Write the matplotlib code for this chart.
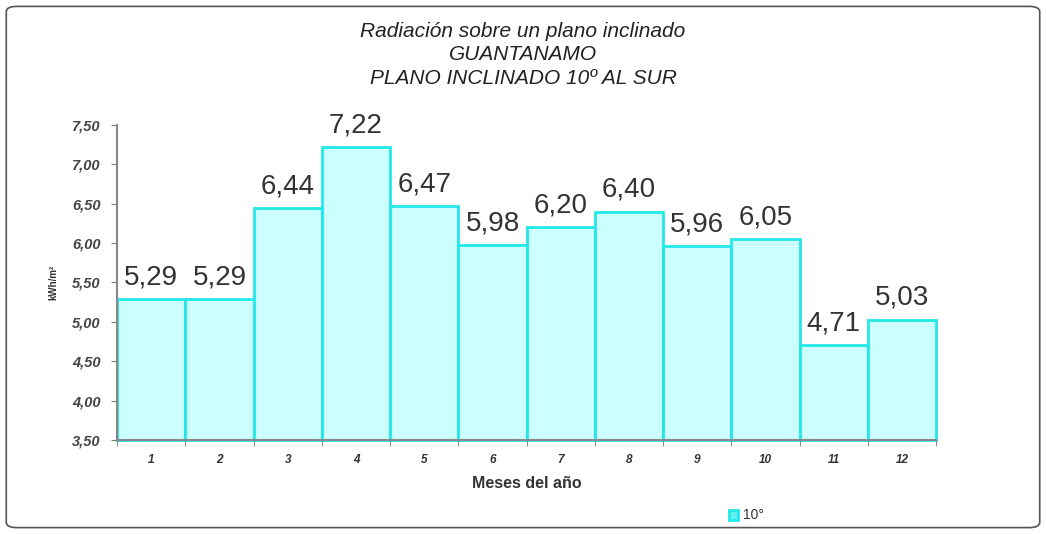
import matplotlib.pyplot as plt
from matplotlib.patches import FancyBboxPatch
import numpy as np

plt.rcParams['font.family'] = ['Liberation Sans', 'DejaVu Sans']

# Data
months = ['1', '2', '3', '4', '5', '6', '7', '8', '9', '10', '11', '12']
radiation = [5.29, 5.29, 6.44, 7.22, 6.47, 5.98, 6.20, 6.40, 5.96, 6.05, 4.71, 5.03]
y_ticks = [3.50, 4.00, 4.50, 5.00, 5.50, 6.00, 6.50, 7.00, 7.50]

fig = plt.figure(figsize=(10.46, 5.34), dpi=100)
ax = fig.add_axes([0.112, 0.176, 0.783, 0.590])

x = np.arange(len(months))
base = 3.5
bars = ax.bar(x, np.array(radiation) - base, bottom=base, width=1.0,
              color='#CCFFFF', edgecolor='#22E8E8', linewidth=2)
for b in bars:
    b.set_clip_on(False)

for xi, v in zip(x, radiation):
    ax.text(xi, v + 0.11, f'{v:.2f}'.replace('.', ','), ha='center', va='bottom',
            fontsize=20, color='#333333')

ax.set_xlim(-0.5, len(months) - 0.5)
ax.set_ylim(3.5, 7.5)
ax.set_yticks(y_ticks)
ax.set_yticklabels([f'{t:.2f}'.replace('.', ',') for t in y_ticks],
                   fontsize=10.5, fontstyle='italic', fontweight='bold', color='#444444')
ax.set_xticks(x)
ax.set_xticklabels(months, fontsize=8.5, fontstyle='italic', fontweight='bold', color='#333333')
ax.set_xticks(np.arange(len(months) + 1) - 0.5, minor=True)
ax.tick_params(axis='x', which='major', length=0, pad=10)
ax.tick_params(axis='x', which='minor', length=4, color='#777777', direction='out')
ax.tick_params(axis='y', length=4, color='#777777', direction='out', pad=8)

for s in ['top', 'right']:
    ax.spines[s].set_visible(False)
for s in ['left', 'bottom']:
    ax.spines[s].set_color('#888888')
    ax.spines[s].set_linewidth(1.5)

ax.set_xlabel('Meses del año', fontsize=11.5, fontweight='bold', color='#333333', labelpad=7)
ax.set_ylabel('kWh/m²', fontsize=7, fontweight='bold', color='#333333', labelpad=10)

fig.text(0.50, 0.958, 'Radiación sobre un plano inclinado\nGUANTANAMO\nPLANO INCLINADO 10º AL SUR',
         ha='center', va='top', fontsize=15, fontstyle='italic', color='#222222',
         linespacing=1.27)

# legend
fig.patches.append(plt.Rectangle((0.697, 0.027), 0.009, 0.018, transform=fig.transFigure,
                                 facecolor='#66EEEE', edgecolor='#22E8E8', linewidth=2))
fig.text(0.710, 0.036, '10°', fontsize=10, va='center', color='#333333')

# outer border
fig.patches.append(FancyBboxPatch((0.006, 0.012), 0.988, 0.976, boxstyle='round,pad=0,rounding_size=0.01',
                                  transform=fig.transFigure, facecolor='none',
                                  edgecolor='#555555', linewidth=1.2))

fig.savefig('out.png', dpi=100)
